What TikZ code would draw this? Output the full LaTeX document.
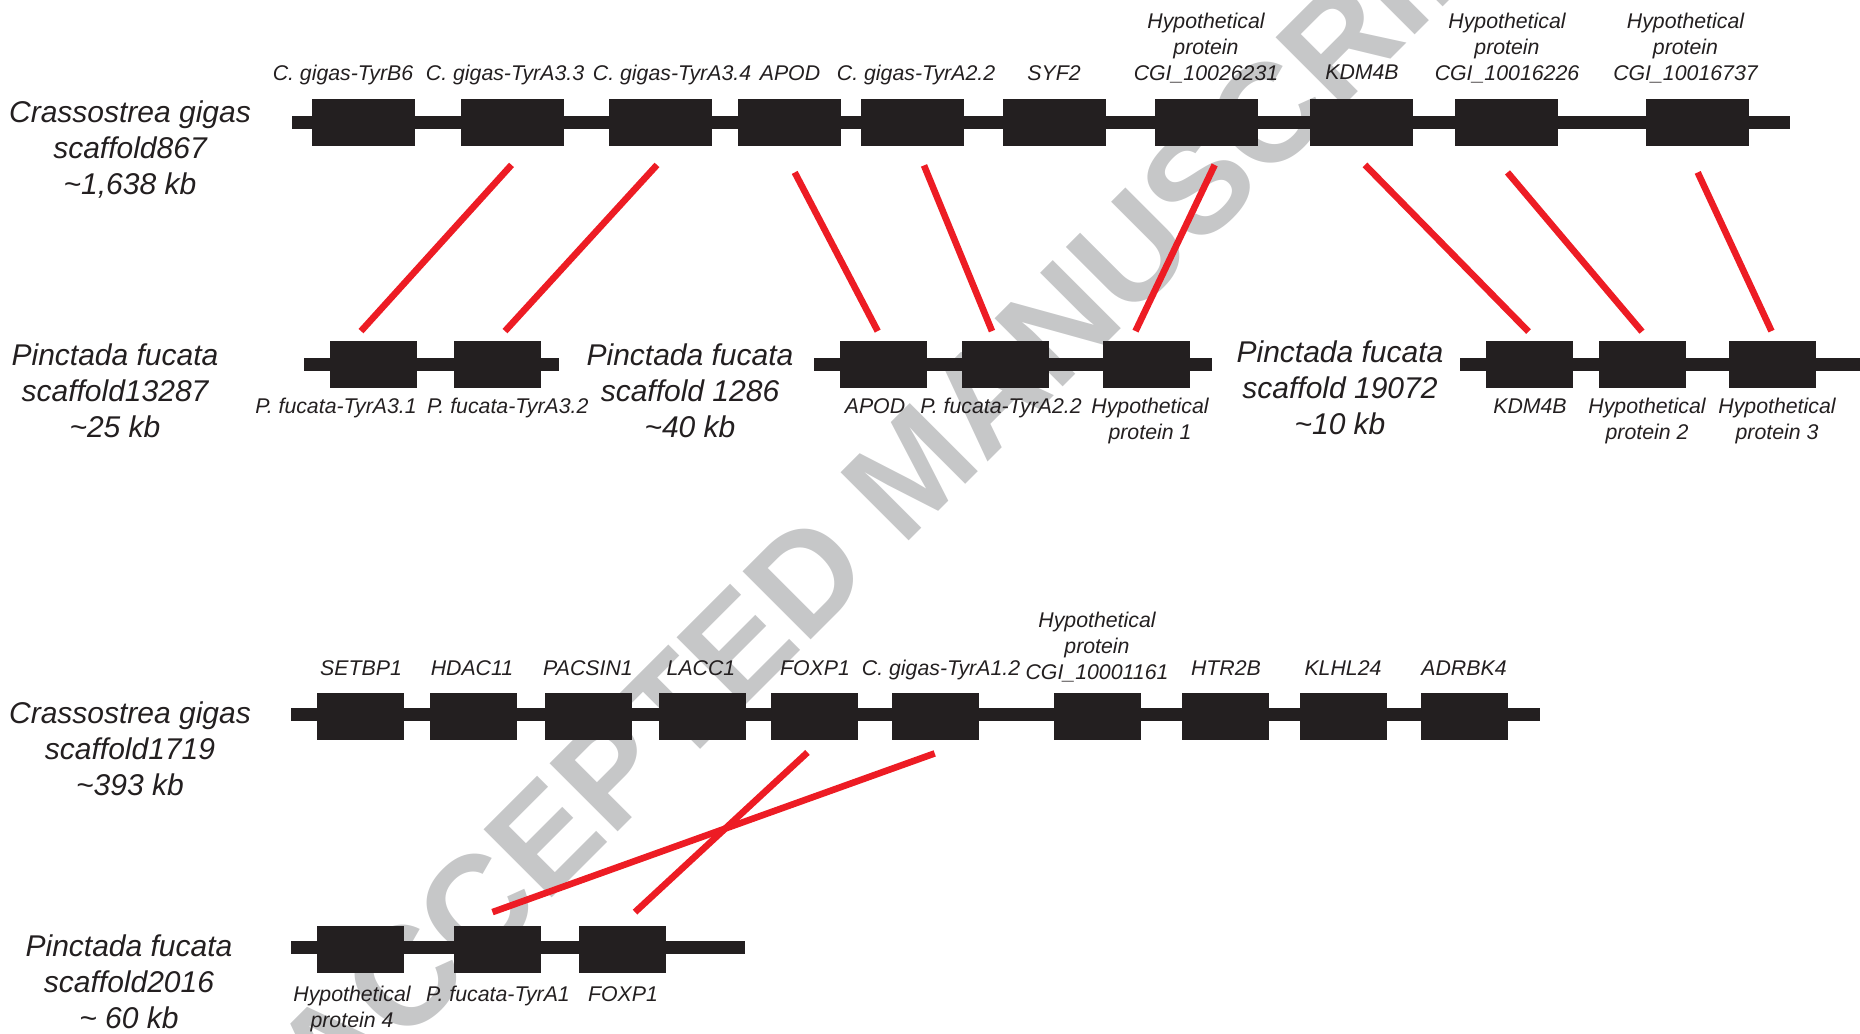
\documentclass[tikz,border=0pt]{standalone}
\usepackage{fontspec}
\setmainfont{Liberation Sans}
\usetikzlibrary{calc}
\definecolor{ink}{RGB}{35,31,32}
\definecolor{linkred}{RGB}{237,28,36}
\definecolor{wmgray}{RGB}{198,199,200}
\newcommand\genefont{\fontsize{10.65pt}{13pt}\selectfont\itshape}
\newcommand\scafont{\fontsize{15pt}{18pt}\selectfont\itshape}
\begin{document}
\begin{tikzpicture}[x=0.5pt,y=-0.5pt,
  chrom/.style={draw=ink,line width=6.5pt},
  genebox/.style={fill=ink,draw=none,minimum width=51.5pt,minimum height=23.5pt,inner sep=0pt},
  pbox/.style={genebox,minimum width=43.5pt},
  glabel/.style={text=ink,font=\genefont,anchor=base,inner sep=0pt,align=center},
  slabel/.style={text=ink,font=\scafont,anchor=base,inner sep=0pt,align=center},
  link/.style={draw=linkred,line width=3.3pt},
  wm/.style={text=wmgray,font=\fontsize{70pt}{70pt}\selectfont\bfseries,rotate=45,inner sep=0pt}]
\useasboundingbox (0,0) rectangle (1860,1034);
\clip (0,0) rectangle (1860,1034);
% watermark
\node[wm] (wm) at (913,469) {ACCEPTED MANUSCRIPT};

% ---------- C. gigas scaffold867 ----------
\coordinate (s1a) at (292,122);
\coordinate (s1b) at (1790,122);
\draw[chrom] (s1a) -- (s1b);
\node[genebox] (ta1) at (363.5,122) {};
\node[genebox] (ta2) at (512,122) {};
\node[genebox] (ta3) at (660,122) {};
\node[genebox] (ta4) at (789,122) {};
\node[genebox] (ta5) at (912.5,122) {};
\node[genebox] (ta6) at (1054.5,122) {};
\node[genebox] (ta7) at (1206,122) {};
\node[genebox] (ta8) at (1361,122) {};
\node[genebox] (ta9) at (1506.5,122) {};
\node[genebox] (ta10) at (1697.5,122) {};
\node[glabel] (la1) at (343,80) {C. gigas-TyrB6};
\node[glabel] (la2) at (505,80) {C. gigas-TyrA3.3};
\node[glabel] (la3) at (672,80) {C. gigas-TyrA3.4};
\node[glabel] (la4) at (790,80) {APOD};
\node[glabel] (la5) at (916,80) {C. gigas-TyrA2.2};
\node[glabel] (la6) at (1054,80) {SYF2};
\node[glabel] (la7) at (1206,80) {Hypothetical\\protein\\CGI\_10026231};
\node[glabel] (la8) at (1362,79) {KDM4B};
\node[glabel] (la9) at (1507,80) {Hypothetical\\protein\\CGI\_10016226};
\node[glabel] (la10) at (1685.5,80) {Hypothetical\\protein\\CGI\_10016737};
\node[slabel] (sc1) at (130,194) {Crassostrea gigas\\scaffold867\\\textasciitilde1,638 kb};

% ---------- P. fucata scaffold13287 ----------
\coordinate (s2a) at (304,364);
\coordinate (s2b) at (559,364);
\draw[chrom] (s2a) -- (s2b);
\node[pbox] (pa1) at (373.5,364) {};
\node[pbox] (pa2) at (497.5,364) {};
\node[glabel] (lpa1) at (336,413) {P. fucata-TyrA3.1};
\node[glabel] (lpa2) at (507.7,413) {P. fucata-TyrA3.2};
\node[slabel] (sc2) at (115,437) {Pinctada fucata\\scaffold13287\\\textasciitilde25 kb};

% ---------- P. fucata scaffold 1286 ----------
\coordinate (s3a) at (814,364);
\coordinate (s3b) at (1212,364);
\draw[chrom] (s3a) -- (s3b);
\node[pbox] (pb1) at (883,364) {};
\node[pbox] (pb2) at (1005,364) {};
\node[pbox] (pb3) at (1146,364) {};
\node[glabel] (lpb1) at (875,413) {APOD};
\node[glabel] (lpb2) at (1001,413) {P. fucata-TyrA2.2};
\node[glabel] (lpb3) at (1150,439) {Hypothetical\\protein 1};
\node[slabel] (sc3) at (690,437) {Pinctada fucata\\scaffold 1286\\\textasciitilde40 kb};

% ---------- P. fucata scaffold 19072 ----------
\coordinate (s4a) at (1460,364);
\coordinate (s4b) at (1860,364);
\draw[chrom] (s4a) -- (s4b);
\node[pbox] (pc1) at (1529,364) {};
\node[pbox] (pc2) at (1642.5,364) {};
\node[pbox] (pc3) at (1772.5,364) {};
\node[glabel] (lpc1) at (1530,413) {KDM4B};
\node[glabel] (lpc2) at (1647,439) {Hypothetical\\protein 2};
\node[glabel] (lpc3) at (1777,439) {Hypothetical\\protein 3};
\node[slabel] (sc4) at (1340,434) {Pinctada fucata\\scaffold 19072\\\textasciitilde10 kb};

% ---------- C. gigas scaffold1719 ----------
\coordinate (s5a) at (291,714);
\coordinate (s5b) at (1540,714);
\draw[chrom] (s5a) -- (s5b);
\node[pbox] (ca1) at (360.5,716) {};
\node[pbox] (ca2) at (473,716) {};
\node[pbox] (ca3) at (588,716) {};
\node[pbox] (ca4) at (702.5,716) {};
\node[pbox] (ca5) at (814.5,716) {};
\node[pbox] (ca6) at (935.5,716) {};
\node[pbox] (ca7) at (1097,716) {};
\node[pbox] (ca8) at (1225.5,716) {};
\node[pbox] (ca9) at (1343,716) {};
\node[pbox] (ca10) at (1464.5,716) {};
\node[glabel] (lca1) at (361,675) {SETBP1};
\node[glabel] (lca2) at (472,675) {HDAC11};
\node[glabel] (lca3) at (588,675) {PACSIN1};
\node[glabel] (lca4) at (701,675) {LACC1};
\node[glabel] (lca5) at (815,675) {FOXP1};
\node[glabel] (lca6) at (941,675) {C. gigas-TyrA1.2};
\node[glabel] (lca7) at (1097,679) {Hypothetical\\protein\\CGI\_10001161};
\node[glabel] (lca8) at (1226,675) {HTR2B};
\node[glabel] (lca9) at (1343,675) {KLHL24};
\node[glabel] (lca10) at (1464,675) {ADRBK4};
\node[slabel] (sc5) at (130,795) {Crassostrea gigas\\scaffold1719\\\textasciitilde393 kb};

% ---------- P. fucata scaffold2016 ----------
\coordinate (s6a) at (291,947.5);
\coordinate (s6b) at (745,947.5);
\draw[chrom] (s6a) -- (s6b);
\node[pbox] (pd1) at (360.5,949) {};
\node[pbox] (pd2) at (497.5,949) {};
\node[pbox] (pd3) at (622.5,949) {};
\node[glabel] (lpd1) at (352,1027) {Hypothetical\\protein 4};
\node[glabel] (lpd2) at (498,1001) {P. fucata-TyrA1};
\node[glabel] (lpd3) at (623,1001) {FOXP1};
\node[slabel] (sc6) at (129,1028) {Pinctada fucata\\scaffold2016\\\textasciitilde{} 60 kb};

% ---------- red connectors ----------
\draw[link] ($(ta2.south)+(-0.5,19)$) -- ($(pa1.north)+(-12.5,-9)$);
\draw[link] ($(ta3.south)+(-3,19)$) -- ($(pa2.north)+(7.5,-9)$);
\draw[link] ($(ta4.south)+(5.7,26.5)$) -- ($(pb1.north)+(-5.3,-9)$);
\draw[link] ($(ta5.south)+(11.5,19.5)$) -- ($(pb2.north)+(-13,-9)$);
\draw[link] ($(ta7.south)+(8.7,19)$) -- ($(pb3.north)+(-10.5,-9)$);
\draw[link] ($(ta8.south)+(4,19)$) -- ($(pc1.north)+(-0.5,-8.5)$);
\draw[link] ($(ta9.south)+(1,26.5)$) -- ($(pc2.north)+(-0.5,-8.5)$);
\draw[link] ($(ta10.south)+(0.2,26.5)$) -- ($(pc3.north)+(-1,-9)$);
\draw[link] ($(ca5.south)+(-7,12.5)$) -- ($(pd3.north)+(12.5,-13)$);
\draw[link] ($(ca6.south)+(-0.8,13.5)$) -- ($(pd2.north)+(-5,-13)$);
\end{tikzpicture}
\end{document}
